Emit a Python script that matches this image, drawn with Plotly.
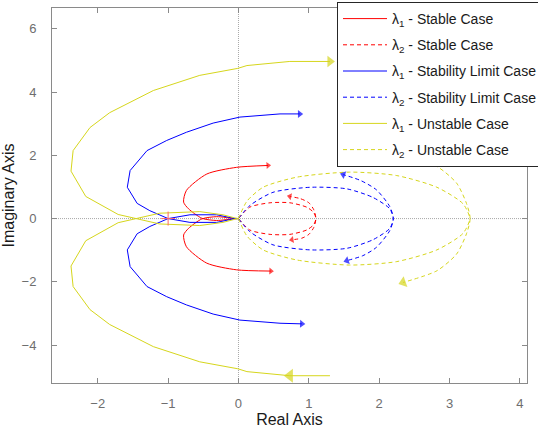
import plotly.graph_objects as go

# ---------------- data ----------------
x_ticks = [-2, -1, 0, 1, 2, 3, 4]
y_ticks = [-4, -2, 0, 2, 4, 6]

# Stable case (red) -- lambda1, positive / negative frequency branches (from origin outward)
stable_l1_up_re = [0.0, -0.05, -0.31, -0.52, -0.71, -0.78, -0.74, -0.45, -0.03, 0.42]
stable_l1_up_im = [0.0, 0.0, -0.06, 0.01, 0.31, 0.52, 0.89, 1.41, 1.62, 1.68]
stable_l1_lo_re = [0.0, -0.05, -0.31, -0.52, -0.71, -0.78, -0.74, -0.45, -0.03, 0.46]
stable_l1_lo_im = [0.0, 0.0, 0.06, -0.01, -0.31, -0.52, -0.89, -1.41, -1.62, -1.66]
# Stable case -- lambda2
stable_l2_up_re = [0.0, 0.16, 0.45, 0.73, 0.97, 1.07, 1.10, 1.07, 1.00, 0.90, 0.76]
stable_l2_up_im = [0.0, 0.36, 0.50, 0.50, 0.36, 0.19, 0.0, -0.28, -0.50, -0.62, -0.67]
stable_l2_lo_re = [0.0, 0.16, 0.45, 0.73, 0.97, 1.07, 1.10, 1.07, 1.00, 0.88, 0.73]
stable_l2_lo_im = [0.0, -0.36, -0.50, -0.50, -0.36, -0.19, 0.0, 0.28, 0.50, 0.63, 0.70]

# Stability limit case (blue) -- lambda1
limit_l1_up_re = [0.0, -0.05, -0.31, -0.69, -1.0, -1.26, -1.44, -1.58, -1.54, -1.30, -1.02, -0.74, -0.36, 0.02, 0.59, 0.87]
limit_l1_up_im = [0.0, 0.0, -0.12, -0.12, 0.0, 0.25, 0.48, 0.99, 1.52, 2.15, 2.47, 2.73, 3.02, 3.21, 3.31, 3.31]
limit_l1_lo_re = [0.0, -0.05, -0.31, -0.69, -1.0, -1.26, -1.44, -1.58, -1.54, -1.30, -1.02, -0.74, -0.36, 0.02, 0.59, 0.90]
limit_l1_lo_im = [0.0, 0.0, 0.12, 0.12, 0.0, -0.25, -0.48, -0.99, -1.52, -2.15, -2.47, -2.73, -3.02, -3.21, -3.31, -3.33]
# Stability limit case -- lambda2
limit_l2_up_re = [0.0, 0.16, 0.49, 1.02, 1.54, 1.91, 2.15, 2.20, 2.15, 1.96, 1.77, 1.54]
limit_l2_up_im = [0.0, 0.41, 0.83, 0.99, 0.94, 0.67, 0.31, 0.0, -0.38, -0.91, -1.17, -1.33]
limit_l2_lo_re = [0.0, 0.16, 0.49, 1.02, 1.54, 1.91, 2.15, 2.20, 2.15, 1.96, 1.74, 1.49]
limit_l2_lo_im = [0.0, -0.41, -0.83, -0.99, -0.94, -0.67, -0.31, 0.0, 0.38, 0.91, 1.20, 1.39]

# Unstable case (yellow) -- lambda1
unst_l1_up_re = [0.0, -0.05, -0.22, -0.55, -1.12, -1.45, -1.71, -2.17, -2.38, -2.35, -2.25, -2.11, -1.83, -1.21, -0.55, -0.01, 0.12, 0.73, 1.30]
unst_l1_up_im = [0.0, -0.02, -0.12, -0.22, -0.17, 0.01, 0.13, 0.70, 1.50, 2.15, 2.47, 2.88, 3.35, 4.05, 4.53, 4.75, 4.84, 4.97, 4.97]
unst_l1_lo_re = [0.0, -0.05, -0.22, -0.55, -1.12, -1.45, -1.71, -2.17, -2.38, -2.35, -2.25, -2.11, -1.83, -1.21, -0.55, -0.01, 0.12, 0.73, 1.30]
unst_l1_lo_im = [0.0, 0.02, 0.12, 0.22, 0.17, -0.01, -0.13, -0.70, -1.50, -2.15, -2.47, -2.88, -3.35, -4.05, -4.53, -4.75, -4.84, -4.97, -4.97]
# Unstable case -- lambda2
unst_l2_up_re = [0.0, 0.12, 0.35, 0.83, 1.58, 2.25, 2.82, 3.19, 3.29, 3.24, 3.10, 2.82, 2.34]
unst_l2_up_im = [0.0, 0.55, 0.99, 1.31, 1.47, 1.36, 0.99, 0.47, 0.0, -0.48, -1.12, -1.65, -2.02]
unst_l2_lo_re = [0.0, 0.12, 0.35, 0.83, 1.58, 2.25, 2.82, 3.19, 3.29, 3.24, 3.10, 2.82, 2.34]
unst_l2_lo_im = [0.0, -0.55, -0.99, -1.31, -1.47, -1.36, -0.99, -0.47, 0.0, 0.48, 1.12, 1.65, 2.02]

critical_re = [-1.0]
critical_im = [0.0]

RED = "#ff0000"
BLUE = "#0000ff"
YEL = "#d6d61c"
DASH = "4px,3px"

fig = go.Figure()


def branch(re, im, color, dash, name, group, legend, shape="linear"):
    fig.add_trace(go.Scatter(
        x=re, y=im, mode="lines", name=name, legendgroup=group, showlegend=legend,
        line=dict(color=color, width=1, dash=dash, shape=shape, smoothing=0.7),
        hoverinfo="skip"))


def arrow(re, im, color, size, i_from, i_to):
    # triangle at point i_to, oriented along the segment i_from -> i_to
    fig.add_trace(go.Scatter(
        x=[re[i_from], re[i_to]], y=[im[i_from], im[i_to]], mode="markers",
        legendgroup="arrows", showlegend=False, hoverinfo="skip",
        marker=dict(symbol="triangle-up", size=[0, size], angleref="previous",
                    color=color, line=dict(width=0))))


# zero lines (dotted)
fig.add_shape(type="line", xref="x", yref="paper", x0=0, x1=0, y0=0, y1=1,
              line=dict(color="#a8a8a8", width=1, dash="1px,1px"), layer="below")
fig.add_shape(type="line", xref="paper", yref="y", x0=0, x1=1, y0=0, y1=0,
              line=dict(color="#a8a8a8", width=1, dash="1px,1px"), layer="below")

L1 = "\u03bb<sub>1</sub>"
L2 = "\u03bb<sub>2</sub>"

branch(stable_l1_up_re, stable_l1_up_im, RED, "solid", L1 + " - Stable Case", "g1", True, "spline")
branch(stable_l1_lo_re, stable_l1_lo_im, RED, "solid", L1 + " - Stable Case", "g1", False, "spline")
branch(stable_l2_up_re, stable_l2_up_im, RED, DASH, L2 + " - Stable Case", "g2", True, "spline")
branch(stable_l2_lo_re, stable_l2_lo_im, RED, DASH, L2 + " - Stable Case", "g2", False, "spline")
branch(limit_l1_up_re, limit_l1_up_im, BLUE, "solid", L1 + " - Stability Limit Case", "g3", True)
branch(limit_l1_lo_re, limit_l1_lo_im, BLUE, "solid", L1 + " - Stability Limit Case", "g3", False)
branch(limit_l2_up_re, limit_l2_up_im, BLUE, DASH, L2 + " - Stability Limit Case", "g4", True, "spline")
branch(limit_l2_lo_re, limit_l2_lo_im, BLUE, DASH, L2 + " - Stability Limit Case", "g4", False, "spline")
branch(unst_l1_up_re, unst_l1_up_im, YEL, "solid", L1 + " - Unstable Case", "g5", True)
branch(unst_l1_lo_re, unst_l1_lo_im, YEL, "solid", L1 + " - Unstable Case", "g5", False)
branch(unst_l2_up_re, unst_l2_up_im, YEL, DASH, L2 + " - Unstable Case", "g6", True, "spline")
branch(unst_l2_lo_re, unst_l2_lo_im, YEL, DASH, L2 + " - Unstable Case", "g6", False, "spline")

# arrows
arrow(stable_l1_up_re, stable_l1_up_im, RED, 6, -2, -1)
arrow(stable_l1_lo_re, stable_l1_lo_im, RED, 6, -2, -1)
arrow(stable_l2_up_re, stable_l2_up_im, RED, 6, -2, -1)
arrow(stable_l2_lo_re, stable_l2_lo_im, RED, 6, -2, -1)
arrow(limit_l1_up_re, limit_l1_up_im, BLUE, 7, -2, -1)
arrow(limit_l1_lo_re, limit_l1_lo_im, BLUE, 7, -2, -1)
arrow(limit_l2_up_re, limit_l2_up_im, BLUE, 7, -2, -1)
arrow(limit_l2_lo_re, limit_l2_lo_im, BLUE, 7, -2, -1)
arrow(unst_l1_up_re, unst_l1_up_im, YEL, 10, -2, -1)
arrow(unst_l1_lo_re, unst_l1_lo_im, YEL, 12, -1, -2)
arrow(unst_l2_lo_re, unst_l2_lo_im, YEL, 10, -2, -1)
arrow(unst_l2_up_re, unst_l2_up_im, YEL, 10, -2, -1)

# critical point marker
fig.add_trace(go.Scatter(x=critical_re, y=critical_im, mode="markers", showlegend=False,
                         legendgroup="arrows", hoverinfo="skip",
                         marker=dict(symbol="cross-thin", size=10, line=dict(color="#ff6666", width=1))))

FONT = "Liberation Sans, Arial, sans-serif"
axis_common = dict(showline=True, linecolor="#8a8a8a", linewidth=1, mirror="ticks",
                   ticks="inside", ticklen=5, tickcolor="#8a8a8a", showgrid=False,
                   zeroline=False, tickfont=dict(family=FONT, size=13, color="#6e6e6e"))

fig.update_layout(
    width=538, height=432,
    margin=dict(l=52, r=11, t=8, b=49, autoexpand=False),
    paper_bgcolor="white", plot_bgcolor="white",
    font=dict(family=FONT, color="#262626"),
    xaxis=dict(range=[-2.65, 4.1], tickvals=x_ticks, ticklabelstandoff=8,
               title=dict(text="Real Axis", font=dict(family=FONT, size=16, color="#1a1a1a"), standoff=4),
               **axis_common),
    yaxis=dict(range=[-5.2, 6.66], tickvals=y_ticks, ticklabelstandoff=12,
               title=dict(text="Imaginary Axis", font=dict(family=FONT, size=16, color="#1a1a1a"), standoff=5),
               **axis_common),
    legend=dict(x=(337 - 52) / (527 - 52), xanchor="left", y=(383 - 2) / (383 - 8), yanchor="top",
                bgcolor="white", bordercolor="#262626", borderwidth=1, itemwidth=44,
                font=dict(family=FONT, size=14, color="#1a1a1a"),
                traceorder="grouped", tracegroupgap=5),
    showlegend=True,
)

fig.write_html("out.html")
